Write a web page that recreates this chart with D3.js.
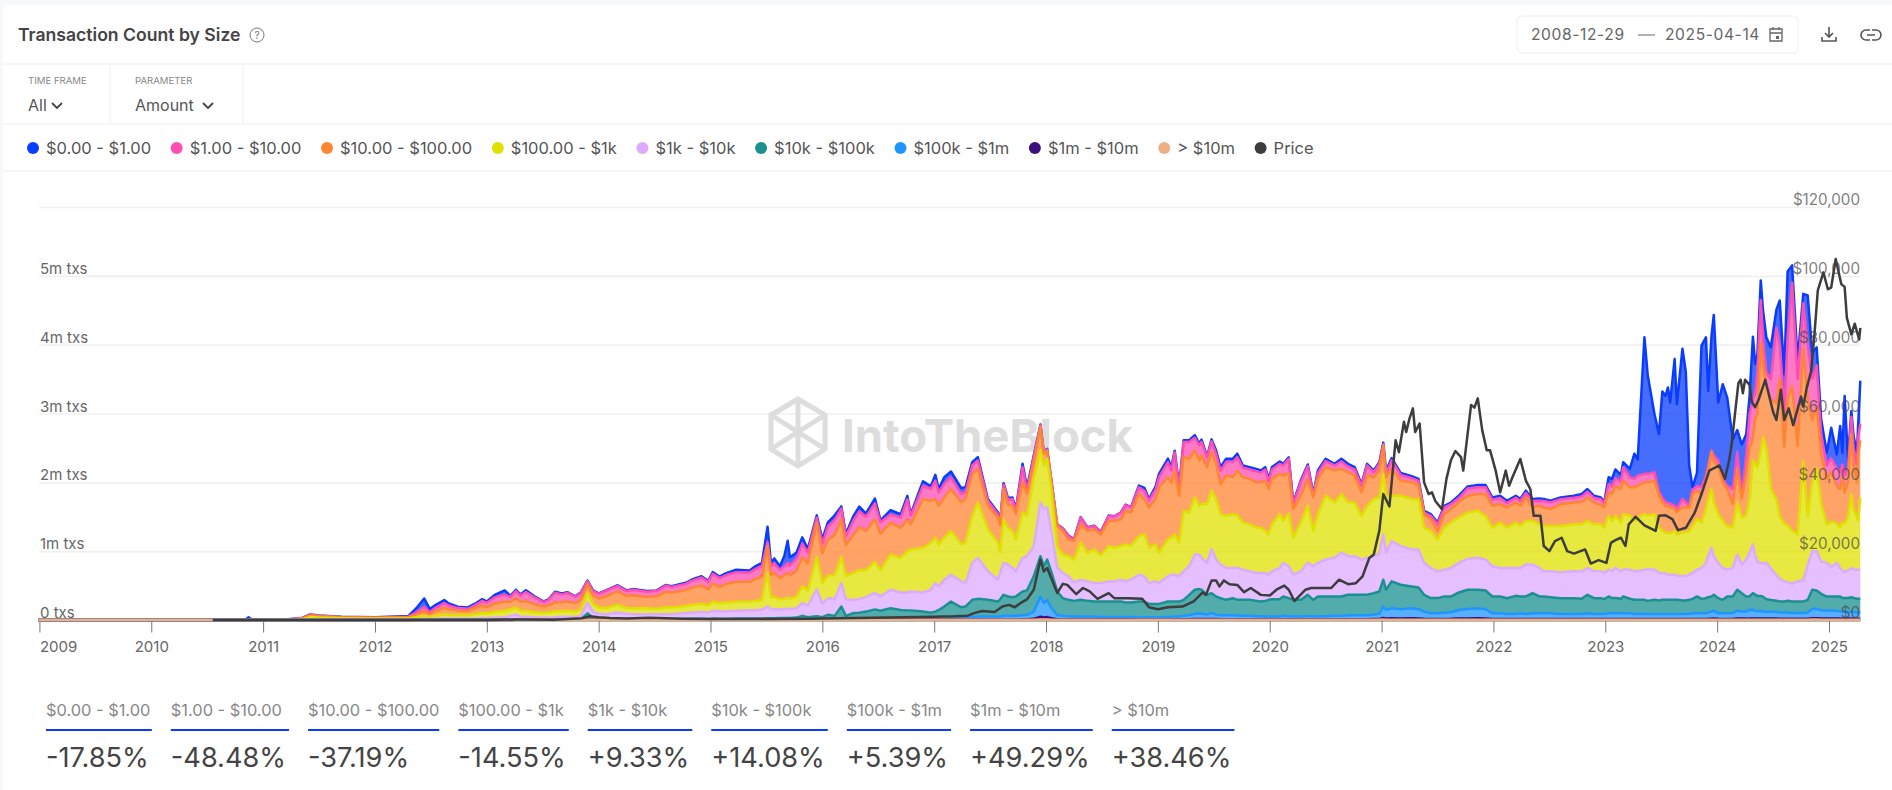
<!DOCTYPE html>
<html>
<head>
<meta charset="utf-8">
<title>Transaction Count by Size</title>
<script src="https://cdn.jsdelivr.net/npm/d3@7"></script>
<style>
  body { margin: 0; background: #f7f8fa; font-family: Inter, sans-serif; }
  svg { display: block; }
  text { font-family: Inter, sans-serif; }
</style>
</head>
<body>
<svg id="chart" width="1892" height="790"></svg>
<script>
// decimal years, thousands of txs per size band
const years = [
  2008.99,2010.00,2010.55,2010.84,2010.87,2010.90,2011.00,2011.20,2011.35,2011.42,
  2011.50,2011.70,2012.00,2012.30,2012.37,2012.44,2012.49,2012.54,2012.62,2012.66,
  2012.74,2012.83,2012.89,2012.96,2013.00,2013.07,2013.16,2013.21,2013.26,2013.30,
  2013.35,2013.43,2013.51,2013.55,2013.61,2013.67,2013.72,2013.79,2013.84,2013.90,
  2013.95,2014.00,2014.07,2014.17,2014.25,2014.31,2014.43,2014.52,2014.60,2014.65,
  2014.78,2014.83,2014.92,2014.98,2015.02,2015.08,2015.14,2015.23,2015.35,2015.40,
  2015.46,2015.51,2015.54,2015.57,2015.62,2015.66,2015.69,2015.71,2015.77,2015.82,
  2015.87,2015.95,2016.00,2016.05,2016.11,2016.17,2016.21,2016.28,2016.33,2016.39,
  2016.47,2016.52,2016.61,2016.70,2016.76,2016.79,2016.90,2016.97,2017.01,2017.04,
  2017.09,2017.15,2017.24,2017.28,2017.34,2017.39,2017.48,2017.57,2017.59,2017.62,
  2017.66,2017.70,2017.73,2017.79,2017.83,2017.89,2017.95,2017.98,2018.01,2018.05,
  2018.10,2018.15,2018.20,2018.25,2018.31,2018.37,2018.43,2018.49,2018.56,2018.61,
  2018.67,2018.71,2018.76,2018.83,2018.88,2018.92,2018.98,2019.01,2019.09,2019.12,
  2019.15,2019.19,2019.23,2019.28,2019.33,2019.37,2019.39,2019.44,2019.48,2019.52,
  2019.56,2019.61,2019.67,2019.71,2019.76,2019.82,2019.88,2019.92,2019.96,2019.99,
  2020.02,2020.09,2020.12,2020.17,2020.21,2020.28,2020.34,2020.39,2020.43,2020.50,
  2020.58,2020.64,2020.70,2020.76,2020.82,2020.87,2020.93,2020.98,2021.015,2021.04,
  2021.09,2021.17,2021.27,2021.33,2021.38,2021.44,2021.50,2021.56,2021.62,2021.69,
  2021.77,2021.86,2021.93,2021.99,2022.06,2022.12,2022.20,2022.24,2022.29,2022.35,
  2022.41,2022.45,2022.51,2022.60,2022.72,2022.79,2022.84,2022.90,2022.96,2022.99,
  2023.03,2023.06,2023.09,2023.14,2023.16,2023.22,2023.26,2023.29,2023.35,2023.38,
  2023.44,2023.48,2023.51,2023.54,2023.56,2023.58,2023.62,2023.64,2023.69,2023.72,
  2023.75,2023.78,2023.82,2023.86,2023.90,2023.92,2023.95,2023.97,2024.01,2024.05,
  2024.09,2024.14,2024.18,2024.22,2024.26,2024.29,2024.32,2024.34,2024.36,2024.39,
  2024.41,2024.44,2024.48,2024.53,2024.56,2024.60,2024.63,2024.67,2024.72,2024.77,
  2024.81,2024.85,2024.89,2024.93,2024.98,2025.02,2025.07,2025.10,2025.12,2025.14,
  2025.17,2025.20,2025.22,2025.25,2025.26,2025.28
];
const over10m = [
  0,0,0,0,0,0,0,0,0,1, 1,1,1,1,1,1,1,1,1,1, 1,1,1,1,1,1,1,1,2,2,
  2,2,2,2,2,2,2,2,2,3, 3,3,3,3,3,3,3,3,3,3, 3,3,3,3,3,3,3,3,3,3,
  3,3,3,3,3,3,3,3,3,3, 3,4,4,4,4,4,4,4,4,4, 4,4,4,4,4,4,4,4,4,4,
  4,4,4,4,4,4,4,4,4,4, 4,4,4,4,4,5,8,6,7,5, 4,4,4,4,4,4,4,4,4,4,
  4,4,4,4,4,4,4,4,4,4, 4,4,4,4,4,4,4,4,4,4, 4,4,4,4,4,4,4,4,4,4,
  4,4,4,4,4,4,4,4,4,4, 4,4,4,4,4,4,4,4,6,5, 5,5,5,5,4,4,4,4,4,5,
  5,5,5,4,4,4,4,4,4,4, 4,4,4,4,4,4,4,4,4,4, 4,4,4,4,4,4,4,4,4,4,
  4,4,4,4,4,4,4,4,4,4, 4,4,4,4,4,4,5,5,5,4, 4,4,5,5,5,5,5,5,5,5,
  5,5,5,5,5,5,5,5,5,5, 5,6,6,5,5,5,5,5,5,5, 5,5,5,5,5,5
];
const m1to10m = [
  0,0,0,0,0,0,0,0,0,0, 0,0,0,0,0,0,0,0,0,0, 0,0,0,0,0,0,0,0,0,0,
  0,0,0,0,0,0,0,0,0,2, 1,1,1,1,1,1,1,1,1,1, 1,1,1,1,1,1,1,1,1,1,
  1,1,1,1,1,1,1,1,1,1, 1,2,2,2,2,4,2,2,2,2, 2,2,2,2,2,2,2,2,2,2,
  3,3,3,3,4,5,5,5,5,5, 5,5,5,6,6,12,40,30,35,20, 8,7,7,6,6,6,6,6,6,6,
  6,6,6,5,5,5,5,5,5,5, 6,6,7,8,10,10,10,9,11,9, 8,8,8,8,7,7,7,7,6,6,
  6,6,7,7,6,6,7,6,6,6, 7,7,8,8,8,8,9,10,25,18, 20,18,20,18,14,12,12,12,13,16,
  18,20,18,12,12,11,11,12,11,12, 12,12,12,11,11,11,12,11,11,11, 12,12,12,12,12,12,11,11,11,11,
  11,11,11,11,11,11,11,11,11,11, 11,12,12,12,12,13,15,17,12,12, 12,12,17,15,15,18,18,16,16,16,
  15,15,15,15,14,14,14,14,13,13, 14,20,20,18,17,18,17,17,15,15, 15,15,14,14,14,14
];
const k100to1m = [
  0,0,0,0,0,0,0,0,0,0, 0,0,0,0,1,1,1,1,1,1, 1,1,1,1,1,1,1,1,1,1,
  1,1,1,1,1,1,1,1,2,2, 1,1,1,1,1,1,1,1,1,1, 1,1,1,1,2,2,2,2,2,2,
  2,2,2,2,2,3,3,3,3,4, 4,4,4,6,6,17,6,6,6,6, 8,8,9,9,9,9,9,9,9,9,
  13,18,18,23,32,41,41,41,41,51, 51,51,51,60,65,103,292,214,248,145, 58,49,44,40,40,40,40,35,35,35,
  35,35,35,31,31,31,31,31,36,36, 40,40,49,58,76,81,76,67,85,67, 58,58,58,53,49,49,44,44,40,40,
  40,40,49,44,40,40,49,40,45,45, 49,49,58,58,58,58,67,76,164,123, 146,133,146,133,104,82,82,91,95,125,
  138,146,133,82,82,73,73,82,73,82, 82,82,82,73,73,73,82,73,73,73, 82,82,82,82,82,82,73,73,73,73,
  73,73,73,73,73,73,73,73,73,73, 73,82,82,82,82,90,102,115,81,82, 82,82,115,102,102,123,127,109,109,109,
  105,100,100,100,91,91,91,81,82,82, 91,134,134,117,113,117,108,108,100,100, 100,100,96,91,91,91
];
const k10to100k = [
  0,0,0,0,0,0,0,0,0,0, 0,0,0,0,1,1,1,1,1,1, 1,1,1,1,1,2,3,3,5,3,
  3,3,3,3,3,4,4,4,6,90, 25,15,10,10,10,10,10,10,10,10, 10,13,13,10,14,12,12,14,14,14,
  16,19,19,19,22,23,23,23,28,52, 32,45,30,63,48,170,48,90,95,110, 140,120,155,131,122,122,107,92,107,131,
  175,243,160,165,253,257,243,218,250,306, 282,272,282,345,355,514,587,531,588,513, 345,257,238,228,243,228,218,223,223,223,
  223,209,209,228,228,194,194,194,223,223, 218,218,233,296,349,354,349,286,290,262, 247,223,247,228,233,233,223,213,228,243,
  253,253,282,262,243,243,306,243,287,287, 282,282,296,296,296,296,310,325,390,293, 390,356,317,317,244,220,220,234,229,254,
  278,268,273,244,244,229,263,244,254,293, 244,244,234,229,229,220,268,229,229,215, 244,220,220,210,244,210,205,205,205,190,
  205,195,205,205,205,205,205,205,195,195, 205,209,244,209,219,225,220,229,219,195, 244,244,302,268,220,196,240,240,220,220,
  215,180,170,160,160,160,170,170,170,170, 180,280,270,240,205,200,210,210,200,200, 200,210,205,200,200,200
];
const k1to10k = [
  0,0,0,0,0,0,1,1,3,6, 6,5,4,5,8,12,10,14,18,18, 18,18,20,25,22,30,35,55,70,45,
  40,30,30,32,35,40,42,38,50,155, 90,70,70,95,75,70,70,70,70,70, 85,90,100,95,115,110,110,115,120,120,
  130,170,130,130,125,130,130,130,135,190, 170,390,200,240,250,340,240,190,200,210, 240,210,270,254,263,278,278,332,415,342,
  390,390,381,342,537,595,415,317,390,464, 464,425,366,488,498,439,781,830,757,586, 342,366,342,268,293,283,268,268,293,293,
  317,307,332,390,366,303,327,303,366,390, 390,366,415,415,513,503,464,464,644,537, 488,464,439,464,439,415,405,415,405,366,
  405,454,488,464,366,415,464,488,488,537, 561,634,561,561,512,537,537,551,659,537, 586,561,537,551,464,439,390,390,415,430,
  449,464,449,439,415,439,405,415,464,415, 415,366,376,376,390,400,390,390,390,381, 390,390,439,400,390,424,415,415,439,454,
  439,405,385,381,366,366,366,351,356,356, 366,376,390,449,513,595,707,561,513,463, 390,414,513,415,536,634,710,560,500,480,
  480,530,460,370,330,290,270,260,290,310, 510,560,570,470,490,430,490,410,400,380, 400,420,420,420,420,420
];
const d100to1k = [
  0,0,0,0,0,1,1,2,10,35, 30,20,15,15,30,45,32,45,60,55, 50,50,60,75,70,85,95,95,105,85,
  85,75,70,75,85,85,85,80,90,145, 110,90,90,110,85,85,85,80,95,95, 105,110,120,105,130,115,125,130,130,135,
  140,490,170,180,145,150,160,150,170,240, 220,470,300,330,340,380,340,390,420,390, 450,380,510,498,600,610,650,683,659,610,
  610,635,537,586,683,805,610,537,293,625, 527,537,464,659,586,976,757,634,708,586, 317,268,293,332,537,415,488,400,512,488,
  488,537,488,561,610,512,537,439,537,537, 586,488,878,781,830,708,781,854,844,878, 732,757,781,766,683,683,659,659,610,586,
  683,781,610,766,537,720,830,512,708,927, 805,854,781,781,634,756,830,815,878,830, 659,732,732,732,512,537,464,610,659,659,
  673,683,634,561,659,586,659,610,634,634, 634,659,659,673,683,683,683,683,683,659, 781,732,756,708,805,781,732,781,805,781,
  805,659,620,595,610,600,634,600,634,634, 634,683,732,659,780,830,854,781,707,684, 634,586,756,683,635,781,1220,1340,1370,1620,
  1830,1670,1150,1100,900,840,820,770,684,1720, 700,1000,1200,850,560,660,570,600,700,700, 780,1070,860,770,720,1051
];
const d10to100 = [
  0,0,0,1,1,1,1,2,10,25, 18,14,12,18,40,70,40,65,95,80, 65,60,85,105,95,120,130,110,135,130,
  145,115,90,100,130,125,135,120,145,120, 130,130,170,195,175,190,165,180,230,215, 230,250,265,230,265,240,270,290,285,320,
  340,390,330,350,310,340,360,340,380,420, 390,500,430,520,590,540,450,560,620,570, 620,530,465,440,463,366,707,610,561,561,
  586,610,610,635,610,488,342,366,390,449, 342,366,366,439,317,244,342,171,122,122, 293,342,244,268,268,317,293,307,366,390,
  390,488,488,610,512,586,659,952,903,805, 927,683,781,781,683,659,708,537,561,513, 439,586,537,649,659,659,659,659,732,659,
  659,586,659,586,415,390,390,488,512,415, 464,366,439,390,342,439,317,390,415,268, 390,220,244,205,195,171,122,195,195,220,
  244,244,317,317,268,293,293,293,342,195, 268,268,244,317,317,327,342,317,278,293, 342,390,429,488,488,415,488,464,464,488,
  488,464,415,390,381,381,317,327,366,366, 342,464,415,415,415,415,537,586,708,561, 537,342,488,269,610,743,330,650,780,1580,
  1050,900,1300,1400,2000,1110,1830,2100,1283,1650, 1700,900,900,700,660,720,550,550,670,450, 500,880,650,500,950,829
];
const d1to10 = [
  0,0,0,0,1,0,1,2,5,10, 8,5,5,10,30,63,28,50,70,55, 37,32,45,70,60,90,105,70,100,90,
  130,100,65,75,140,115,125,90,95,45, 60,70,80,80,70,80,75,75,90,85, 90,100,115,105,140,125,130,140,135,145,
  155,60,125,140,120,130,150,140,170,200, 160,70,140,200,210,165,130,210,230,210, 230,165,120,150,290,122,195,171,268,195,
  195,171,122,98,122,122,73,49,40,59, 73,98,49,220,49,73,24,10,10,10, 15,34,49,24,98,49,49,34,73,63,
  98,83,73,98,122,98,146,146,220,171, 264,107,220,244,181,220,195,137,156,146, 195,195,220,195,137,137,161,137,161,112,
  137,146,146,210,73,195,185,24,88,88, 73,107,83,88,98,146,73,98,15,63, 122,83,59,59,24,49,98,98,73,63,
  107,98,98,88,88,63,68,68,63,93, 73,93,98,73,68,78,83,68,88,54, 122,112,117,107,195,146,122,146,122,122,
  122,49,59,59,49,49,49,39,122,73, 24,63,63,98,73,73,24,97,73,49, 49,219,244,49,268,500,550,380,600,620,
  400,200,300,1100,500,490,900,1500,973,650, 800,600,600,300,195,200,250,250,170,250, 200,250,250,250,250,240
];
const d0to1 = [
  0,0,1,1,38,1,1,1,2,3, 2,2,3,10,60,120,45,40,45,30, 20,20,20,25,18,35,60,15,20,15,
  25,15,8,10,15,12,10,8,8,10, 10,8,10,10,10,10,10,10,10,10, 15,17,17,15,25,22,27,35,30,40,
  43,220,50,70,52,150,320,120,90,90, 50,35,60,55,70,30,30,65,70,45, 70,30,60,50,50,25,63,40,83,50,
  98,83,83,72,49,49,24,24,10,24, 24,20,24,49,48,24,10,10,10,10, 5,5,5,5,5,5,5,5,5,5,
  5,5,5,25,40,25,40,50,50,50, 24,29,24,24,39,24,34,20,29,49, 49,49,49,49,34,34,34,34,34,34,
  34,34,24,20,24,24,24,24,34,34, 24,39,39,34,24,24,24,24,25,34, 34,29,29,29,24,24,24,24,24,34,
  29,34,34,34,34,34,29,29,34,29, 34,29,24,24,29,34,39,29,24,20, 98,107,127,98,73,122,366,235,1983,1425,
  842,843,1547,1538,1680,1470,2132,1525,2180,1888, 586,35,196,2057,2008,1084,1667,2041,841,1376, 1280,721,320,745,306,256,916,418,264,283,
  400,507,460,260,641,572,964,252,267,139, 714,388,260,216,185,444,206,669,170,1156, 133,87,173,180,150,625
];

const priceYears = [
  2010.55,2011.00,2011.45,2012.00,2012.50,2013.00,2013.27,2013.60,2013.85,2013.92,
  2014.00,2014.10,2014.25,2014.45,2014.75,2015.00,2015.50,2015.90,2016.00,2016.45,
  2017.00,2017.18,2017.30,2017.37,2017.43,2017.54,2017.61,2017.67,2017.72,2017.77,
  2017.83,2017.89,2017.93,2017.95,2017.98,2018.01,2018.04,2018.10,2018.15,2018.19,
  2018.27,2018.33,2018.39,2018.46,2018.56,2018.61,2018.73,2018.86,2018.92,2019.00,
  2019.09,2019.22,2019.32,2019.40,2019.43,2019.48,2019.52,2019.55,2019.59,2019.64,
  2019.71,2019.77,2019.83,2019.92,2020.00,2020.06,2020.13,2020.17,2020.22,2020.32,
  2020.37,2020.55,2020.62,2020.70,2020.77,2020.83,2020.89,2020.93,2020.98,2021.015,
  2021.07,2021.125,2021.155,2021.20,2021.22,2021.25,2021.28,2021.30,2021.34,2021.38,
  2021.42,2021.45,2021.48,2021.54,2021.58,2021.62,2021.66,2021.71,2021.73,2021.80,
  2021.83,2021.86,2021.90,2021.94,2021.97,2022.02,2022.06,2022.11,2022.14,2022.17,
  2022.24,2022.29,2022.33,2022.36,2022.42,2022.45,2022.50,2022.55,2022.61,2022.66,
  2022.72,2022.82,2022.87,2022.94,2023.01,2023.05,2023.09,2023.14,2023.18,2023.21,
  2023.27,2023.35,2023.45,2023.48,2023.54,2023.60,2023.65,2023.72,2023.80,2023.86,
  2023.93,2024.02,2024.07,2024.11,2024.13,2024.19,2024.21,2024.23,2024.25,2024.29,
  2024.31,2024.34,2024.37,2024.43,2024.50,2024.53,2024.57,2024.60,2024.64,2024.68,
  2024.75,2024.77,2024.80,2024.84,2024.87,2024.90,2024.95,2024.99,2025.02,2025.06,
  2025.11,2025.14,2025.16,2025.20,2025.23,2025.27,2025.28
];
const priceValues = [
  0,0,25,5,7,13,140,100,500,1100,
  800,550,450,620,380,280,270,380,430,650,
  976,1070,1270,2150,2630,2340,3900,4400,3700,4900,
  6000,8800,14600,17500,14100,15100,12700,7800,10500,10200,
  7500,9300,8300,6150,7800,6350,6350,6150,3700,3100,
  3700,3900,5400,8000,7300,11500,11500,9760,11500,10400,
  10200,8100,9300,7300,7100,8800,10000,8800,5500,8800,
  9300,9300,11700,10400,10700,12700,18000,19000,26000,36600,
  33000,52200,48800,57600,54600,58600,61500,54600,57100,40000,
  36600,37100,34600,32200,41000,46400,49100,47300,43400,62500,
  61700,64400,55100,49300,49300,43400,37100,43400,39000,41500,
  46800,40500,38000,30300,30300,21500,20000,22900,23900,20000,
  19300,20500,16400,17400,16600,22400,23200,23900,21500,27800,
  30000,27500,25900,30300,30400,29300,26100,26800,31200,36600,
  43400,44900,41000,46800,51200,68800,69800,65900,69800,68300,
  63400,61800,63900,69800,60500,58100,66900,58100,61500,56600,
  64900,62000,67300,72200,83000,95800,101000,96100,96600,104900,
  97600,96800,87800,83000,86100,81500,84900
];

const bandNames = ['$0.00 - $1.00','$1.00 - $10.00','$10.00 - $100.00','$100.00 - $1k','$1k - $10k','$10k - $100k','$100k - $1m','$1m - $10m','> $10m'];
const bandColors = ['#0a3cff','#ff4db2','#ff8533','#dfe000','#dcaaff','#1a9090','#1f96ff','#3d0f80','#eeb080'];
const priceColor = '#3d3d3d';
const changes = ['-17.85%','-48.48%','-37.19%','-14.55%','+9.33%','+14.08%','+5.39%','+49.29%','+38.46%'];
const yearTicks = d3.range(2009,2026);
const txTicks = [0,1000,2000,3000,4000,5000];
const priceTicks = [0,20000,40000,60000,80000,100000,120000];

const svg = d3.select('#chart');
const greyText = '#666';

// card and header
svg.append('rect').attr('x',3).attr('y',5).attr('width',1900).attr('height',800).attr('rx',5).attr('fill','#fff');
[64,124,171].forEach(y=>{
  svg.append('line').attr('x1',3).attr('x2',1892).attr('y1',y).attr('y2',y).attr('stroke','#eeeeee');
});
[110,243].forEach(x=>{
  svg.append('line').attr('x1',x).attr('x2',x).attr('y1',64).attr('y2',124).attr('stroke','#eeeeee');
});
svg.append('text').attr('x',18).attr('y',41).attr('font-size',17.6).attr('font-weight',600).attr('fill','#444').text('Transaction Count by Size');
svg.append('circle').attr('cx',257).attr('cy',35).attr('r',7).attr('fill','none').attr('stroke','#777');
svg.append('text').attr('x',257).attr('y',39).attr('text-anchor','middle').attr('font-size',10).attr('fill','#777').text('?');

function headerControl(x,label,value,chevronX){
  svg.append('text').attr('x',x).attr('y',84).attr('font-size',9.6).attr('fill','#888').text(label);
  svg.append('text').attr('x',x).attr('y',111).attr('font-size',16).attr('fill','#555').text(value);
  svg.append('path').attr('d','M'+(chevronX-5)+' 103l5 5l5 -5').attr('fill','none').attr('stroke','#444').attr('stroke-width',1.8);
}
headerControl(28,'TIME FRAME','All',57);
headerControl(135,'PARAMETER','Amount',208);

// date box and icons
svg.append('rect').attr('x',1517).attr('y',16).attr('width',281).attr('height',37).attr('rx',5).attr('fill','#fff').attr('stroke','#efefef');
svg.append('text').attr('x',1531).attr('y',40).attr('font-size',15.6).attr('letter-spacing',0.6).attr('fill','#666').text('2008-12-29');
svg.append('line').attr('x1',1638).attr('x2',1655).attr('y1',35).attr('y2',35).attr('stroke','#666');
svg.append('text').attr('x',1665).attr('y',40).attr('font-size',15.6).attr('letter-spacing',0.6).attr('fill','#666').text('2025-04-14');
svg.append('path').attr('d','M1770 29h12v12h-12zM1770 33h12M1773 27v3M1779 27v3').attr('fill','none').attr('stroke','#666').attr('stroke-width',1.3);
svg.append('rect').attr('x',1776).attr('y',36).attr('width',3).attr('height',3).attr('fill','#666');
svg.append('path').attr('d','M1829 27v10M1825 33l4 4l4 -4M1822 37v4h14v-4').attr('fill','none').attr('stroke','#555').attr('stroke-width',1.6);
svg.append('path').attr('d','M1870 30h-4a5 5 0 0 0 0 10h4M1872 30h4a5 5 0 0 1 0 10h-4M1867 35h8').attr('fill','none').attr('stroke','#555').attr('stroke-width',1.6);

// legend, laid out by text width
const legendNames = bandNames.concat(['Price']);
const legendColors = bandColors.concat([priceColor]);
let legendX = 33;
legendNames.forEach((name,i)=>{
  svg.append('circle').attr('cx',legendX).attr('cy',148).attr('r',6).attr('fill',legendColors[i]);
  const t = svg.append('text').attr('x',legendX+13).attr('y',154).attr('font-size',16.5).attr('fill','#555').text(name);
  legendX += 13 + t.node().getComputedTextLength() + 25.6;
});

// scales
const x = d3.scaleLinear().domain([2008.99,2025.28]).range([38.3,1860.3]);
const yTx = d3.scaleLinear().domain([0,6000]).range([620,207]);
const yPrice = d3.scaleLinear().domain([0,120000]).range([620,207]);

// gridlines and left labels
const leftAxis = svg.append('g')
  .attr('transform','translate(39,0)')
  .call(d3.axisRight(yTx).tickValues(txTicks.concat([6000])).tickSize(1821)
    .tickFormat(d=>d==6000 ? '' : (d==0 ? '0 txs' : d/1000+'m txs')));
leftAxis.select('.domain').remove();
leftAxis.selectAll('line').attr('stroke','#f0f0f0').attr('stroke-width',1.6);
leftAxis.selectAll('text').attr('x',1).attr('dy',-2.5).attr('text-anchor','start').attr('font-size',15).attr('fill',greyText).style('font-family','Inter');

// watermark sits behind the areas
const mark = svg.append('g').attr('fill','none').attr('stroke','#dddddd').attr('stroke-width',5);
mark.append('path').attr('d','M798 399L825 415V449L798 466L771 449V415ZM798 399V432M771 415L825 449M825 415L771 449M798 432V466');
svg.append('text').attr('x',842).attr('y',452).attr('font-size',45.5).attr('font-weight',700).attr('fill','#dddddd').text('IntoTheBlock');

// x axis goes under the bands so the baseline stroke covers it
const bottomAxis = svg.append('g')
  .attr('transform','translate(0,620.5)')
  .call(d3.axisBottom(x).tickValues(yearTicks).tickSize(12).tickSizeOuter(0).tickPadding(9).tickFormat(d3.format('d')));
bottomAxis.select('.domain').attr('stroke','#777');
bottomAxis.selectAll('line').attr('stroke','#777');
bottomAxis.selectAll('text').attr('font-size',15).attr('fill',greyText).style('font-family','Inter');
bottomAxis.select('.tick text').attr('text-anchor','start').attr('x',0);

// stacked bands, smallest size at the bottom
const keys = ['over10m','m1to10m','k100to1m','k10to100k','k1to10k','d100to1k','d10to100','d1to10','d0to1'];
const table = years.map((y,i)=>({
  year:y, over10m:over10m[i], m1to10m:m1to10m[i], k100to1m:k100to1m[i], k10to100k:k10to100k[i],
  k1to10k:k1to10k[i], d100to1k:d100to1k[i], d10to100:d10to100[i], d1to10:d1to10[i], d0to1:d0to1[i]
}));
const stacked = d3.stack().keys(keys)(table);
const area = d3.area().x(d=>x(d.data.year)).y0(d=>yTx(d[0])).y1(d=>yTx(d[1]));
const topLine = d3.line().x(d=>x(d.data.year)).y(d=>yTx(d[1]));

// top band first so the lower ones paint over its edge
stacked.slice().reverse().forEach((layer,i)=>{
  svg.append('path').attr('d',area(layer)).attr('fill',bandColors[i]).attr('fill-opacity',0.75);
  svg.append('path').attr('d',topLine(layer)).attr('fill','none').attr('stroke',bandColors[i]).attr('stroke-width',2.5).attr('stroke-linejoin','round');
});

// price
const priceLine = d3.line().x(d=>x(d[0])).y(d=>yPrice(d[1]));
svg.append('path').attr('d',priceLine(d3.zip(priceYears,priceValues)))
  .attr('fill','none').attr('stroke',priceColor).attr('stroke-width',2.5).attr('stroke-linejoin','round');

// right labels over the chart
const rightAxis = svg.append('g')
  .attr('transform','translate(1860,0)')
  .call(d3.axisLeft(yPrice).tickValues(priceTicks).tickSize(0).tickFormat(d=>'$'+d3.format(',')(d)));
rightAxis.select('.domain').remove();
rightAxis.selectAll('text').attr('x',0).attr('dy',-2.5).attr('font-size',15.2).attr('fill','#444').attr('fill-opacity',0.7).style('font-family','Inter');

// change summary under the chart
let statX = 46;
bandNames.forEach((name,i)=>{
  const label = svg.append('text').attr('x',statX).attr('y',716).attr('font-size',16.4).attr('fill','#888').text(name);
  const value = svg.append('text').attr('x',statX).attr('y',767).attr('font-size',27.2).attr('fill','#444').text(changes[i]);
  const w = Math.max(label.node().getComputedTextLength(),value.node().getComputedTextLength()+3);
  svg.append('line').attr('x1',statX).attr('x2',statX+w).attr('y1',730).attr('y2',730).attr('stroke','#0a3cff').attr('stroke-width',2);
  statX += w + 19;
});
</script>
</body>
</html>
